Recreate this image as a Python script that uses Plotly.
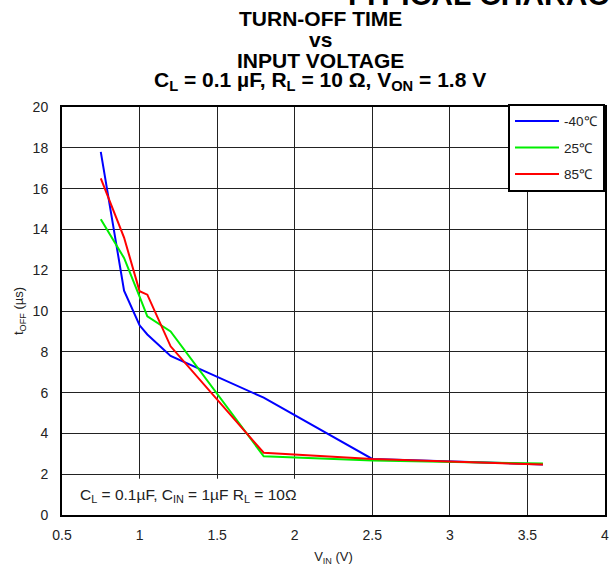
import plotly.graph_objects as go

vin = [0.75, 0.9, 1.0, 1.05, 1.2, 1.8, 2.5, 3.6]
t_m40 = [17.8, 11.0, 9.3, 8.85, 7.8, 5.75, 2.75, 2.48]
t_25 = [14.5, 12.6, 10.7, 9.74, 9.0, 2.88, 2.67, 2.52]
t_85 = [16.5, 13.6, 10.97, 10.8, 8.27, 3.05, 2.75, 2.47]

series = [("-40\u2103", t_m40, "#0000ff"), ("25\u2103", t_25, "#00ee00"), ("85\u2103", t_85, "#ff0000")]

x_ticks = [0.5, 1, 1.5, 2, 2.5, 3, 3.5, 4]
x_labels = ["0.5", "1", "1.5", "2", "2.5", "3", "3.5", "4"]
y_ticks = [0, 2, 4, 6, 8, 10, 12, 14, 16, 18, 20]

FONT = "Liberation Sans, Arial, sans-serif"
W, H = 611, 567
L, R, T, B = 62, 2, 107, 52
PH = H - T - B

fig = go.Figure()
for i, (name, vals, col) in enumerate(series):
    fig.add_trace(go.Scatter(x=vin, y=vals, mode="lines", name=name,
                             legendgroup=f"g{i}",
                             line=dict(color=col, width=2)))

fig.update_layout(
    width=W, height=H,
    margin=dict(l=L, r=R, t=T, b=B),
    paper_bgcolor="white", plot_bgcolor="white",
    font=dict(family=FONT, color="#222", size=14),
    showlegend=True,
    legend=dict(x=1, y=1.008, xanchor="right", yanchor="top",
                bgcolor="white", bordercolor="black", borderwidth=2,
                font=dict(size=13.5, color="#222"), itemwidth=44,
                tracegroupgap=6),
    xaxis=dict(range=[0.5, 4], tickvals=x_ticks, ticktext=x_labels,
               showgrid=True, gridcolor="#222", gridwidth=1,
               showline=True, linecolor="black", linewidth=2, mirror=True,
               ticks="", zeroline=False, ticklabelstandoff=6,
               ticklabeloverflow="allow",
               title=dict(text="V<sub>IN</sub> (V)", font=dict(size=13), standoff=10),
               tickfont=dict(size=14)),
    yaxis=dict(range=[0, 20], tickvals=y_ticks,
               showgrid=True, gridcolor="#222", gridwidth=1,
               showline=True, linecolor="black", linewidth=2, mirror=True,
               ticks="", zeroline=False, ticklabelstandoff=9,
               title=dict(text="t<sub>OFF</sub> (µs)", font=dict(size=13), standoff=6),
               tickfont=dict(size=14)),
)

fig.add_shape(type="rect", xref="x", yref="y", x0=0.515, x1=2.14, y0=-0.5, y1=1.78,
              fillcolor="white", line=dict(width=0), layer="above")

fig.add_annotation(xref="x", yref="y", x=0.6, y=0.95, xanchor="left", yanchor="middle",
                   text="C<sub>L</sub> = 0.1µF, C<sub>IN</sub> = 1µF R<sub>L</sub> = 10Ω",
                   showarrow=False, font=dict(size=15.5, color="#222"))

title_lines = [("TURN-OFF TIME", 19), ("vs", 40), ("INPUT VOLTAGE", 61),
               ("C<sub>L</sub> = 0.1 µF, R<sub>L</sub> = 10 Ω, V<sub>ON</sub> = 1.8 V", 81)]
for txt, ypx in title_lines:
    fig.add_annotation(xref="paper", yref="paper", x=(322 - L) / (W - L - R),
                       y=1 + (T - ypx) / PH, xanchor="center", yanchor="middle",
                       text=f"<b>{txt}</b>", showarrow=False,
                       font=dict(size=21, color="black"))

fig.add_annotation(xref="paper", yref="paper", x=(343 - L) / (W - L - R),
                   y=1 + (T - 13) / PH, xanchor="left", yanchor="bottom",
                   text="<b>TYPICAL CHARACTERISTICS</b>", showarrow=False,
                   font=dict(size=30, color="black"))

fig.write_html("out.html", config={"displayModeBar": False},
               post_script="document.body.style.margin='0';document.body.style.overflow='hidden';")
